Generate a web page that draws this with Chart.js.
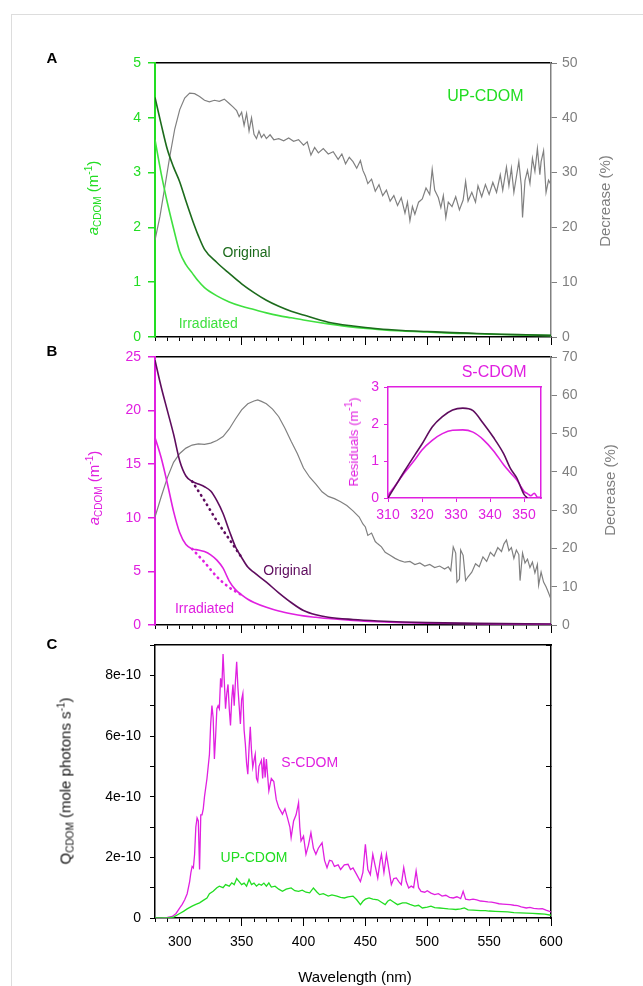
<!DOCTYPE html>
<html>
<head>
<meta charset="utf-8">
<script src="https://cdn.jsdelivr.net/npm/chart.js@4.4.0/dist/chart.umd.min.js"></script>
<style>
  body { margin: 0; background: #fff; font-family: "Liberation Sans", Arial, sans-serif; }
  #page { position: relative; width: 643px; height: 986px; overflow: hidden; }
  #page canvas { position: absolute; left: 0; top: 0; }
  .frame-l { position: absolute; left: 11px; top: 14px; width: 1px; height: 972px; background: #ddd; }
  .frame-t { position: absolute; left: 11px; top: 14px; width: 632px; height: 1px; background: #ddd; }
  .txt { position: absolute; white-space: nowrap; font-size: 14px; line-height: 1; z-index: 5; font-weight: normal; }
  .rot { transform: translate(-50%, -50%) rotate(-90deg); }
  .mid { transform: translate(-50%, -50%); }
  .panel { font-weight: bold; font-size: 15px; color: #000; }
  sub { font-size: 10px; vertical-align: -3px; }
  sup { font-size: 10px; vertical-align: 6px; }
</style>
</head>
<body>
<div id="page">
  <div class="frame-l"></div><div class="frame-t"></div>
  <canvas id="chartA" width="643" height="986"></canvas>
  <canvas id="chartB" width="643" height="986"></canvas>
  <canvas id="chartInset" width="643" height="986"></canvas>
  <canvas id="chartC" width="643" height="986"></canvas>

  <div class="txt panel mid" style="left:52px;top:57px">A</div>
  <div class="txt panel mid" style="left:52px;top:350px">B</div>
  <div class="txt panel mid" style="left:52px;top:643px">C</div>

  <div class="txt rot" style="left:93px;top:198px;color:#22dd22;font-size:15px"><i>a</i><sub>CDOM</sub> (m<sup>-1</sup>)</div>
  <div class="txt rot" style="left:604px;top:201px;color:#808080;font-size:15px">Decrease (%)</div>
  <div class="txt rot" style="left:94px;top:488px;color:#e020e0;font-size:15px"><i>a</i><sub>CDOM</sub> (m<sup>-1</sup>)</div>
  <div class="txt rot" style="left:609px;top:490px;color:#808080;font-size:15px">Decrease (%)</div>
  <div class="txt rot" style="left:352px;top:442px;color:#e020e0;font-size:13px">Residuals (m<sup>-1</sup>)</div>
  <div class="txt rot" style="left:66px;top:781px;color:#111;font-size:15px">Q<sub>CDOM</sub> (mole photons s<sup>-1</sup>)</div>
  <div class="txt mid" style="left:355px;top:976px;color:#000;font-size:15px">Wavelength (nm)</div>
</div>

<script>
// ---- panel A : UP-CDOM absorption (m-1) and decrease (%) ----
const wlA   = [280, 285, 290, 295, 300, 305, 310, 315, 320, 330, 340, 350, 360, 370, 380, 390, 400, 420, 440, 460, 480, 500, 520, 540, 560, 580, 600];
const origA = [4.37, 3.88, 3.42, 3.10, 2.83, 2.48, 2.15, 1.85, 1.60, 1.36, 1.16, 0.97, 0.81, 0.67, 0.56, 0.47, 0.40, 0.27, 0.20, 0.15, 0.12, 0.10, 0.08, 0.065, 0.05, 0.04, 0.03];
const irrA  = [3.60, 2.98, 2.45, 1.98, 1.55, 1.32, 1.17, 1.02, 0.90, 0.75, 0.64, 0.56, 0.50, 0.44, 0.39, 0.35, 0.31, 0.24, 0.18, 0.14, 0.11, 0.09, 0.07, 0.06, 0.045, 0.035, 0.025];

const wlDecA = [280, 284, 288, 292, 296, 300, 304, 308, 312, 316, 320, 324, 328, 332, 336, 340, 343, 346, 348, 350, 352, 354, 356, 358, 360, 362, 364, 366, 368, 370, 373, 376, 380, 384, 388, 392, 396, 400, 403, 406, 409, 412, 416, 420, 424, 428, 431, 434, 437, 440, 443, 446, 448, 450, 452, 455, 458, 461, 464, 467, 470, 473, 476, 479, 482, 484, 486, 488, 490, 493, 496, 499, 502, 504, 506, 509, 511, 513, 515, 517, 520, 523, 526, 529, 531, 533, 536, 539, 541, 544, 547, 550, 553, 556, 559, 561, 564, 566, 568, 570, 572, 574, 576, 577, 579, 581, 583, 585, 587, 589, 591, 592, 594, 596, 598, 600];
const decA   = [17.7, 22.0, 27.5, 33.0, 38.0, 41.5, 43.6, 44.5, 44.4, 43.9, 43.2, 42.9, 43.2, 43.0, 43.4, 42.6, 42.0, 41.3, 40.2, 41.0, 38.6, 40.8, 37.6, 40.0, 37.0, 36.2, 37.6, 36.4, 37.0, 36.2, 36.9, 36.0, 36.2, 35.8, 36.3, 35.7, 36.0, 35.0, 35.6, 33.2, 34.6, 33.6, 34.4, 33.4, 33.8, 32.4, 33.4, 31.6, 32.8, 32.0, 30.8, 32.2, 30.4, 29.4, 28.0, 28.8, 26.6, 27.8, 25.8, 26.8, 24.8, 25.8, 24.0, 25.4, 22.6, 24.6, 21.2, 23.8, 22.4, 24.6, 25.2, 27.2, 26.0, 30.6, 26.8, 25.4, 23.6, 25.8, 21.8, 24.6, 23.8, 25.6, 23.2, 25.0, 28.4, 24.8, 26.4, 24.6, 27.6, 25.6, 27.8, 26.0, 28.2, 26.4, 29.6, 26.8, 31.0, 27.6, 30.8, 26.4, 29.2, 32.0, 27.6, 21.8, 28.6, 30.4, 28.0, 32.6, 30.2, 34.4, 29.6, 32.0, 34.0, 26.4, 28.6, 27.8];

// ---- panel B : S-CDOM absorption (m-1) and decrease (%) ----
const wlB   = [280, 285, 290, 295, 300, 305, 310, 315, 320, 325, 330, 335, 340, 345, 350, 355, 360, 370, 380, 390, 400, 410, 420, 440, 460, 480, 500, 540, 600];
const origB = [24.7, 22.2, 20.0, 17.8, 15.3, 13.9, 13.4, 13.15, 12.9, 12.5, 11.6, 10.4, 8.8, 7.3, 6.3, 5.4, 4.9, 4.0, 3.0, 2.1, 1.35, 0.95, 0.73, 0.52, 0.38, 0.28, 0.22, 0.15, 0.09];
const irrB  = [17.5, 15.6, 13.2, 10.6, 8.6, 7.5, 7.1, 7.0, 6.85, 6.55, 6.05, 5.3, 4.1, 3.3, 2.8, 2.4, 2.1, 1.65, 1.3, 1.05, 0.85, 0.72, 0.6, 0.42, 0.3, 0.22, 0.17, 0.11, 0.06];

// dotted baselines under the 310-350 nm shoulder
const wlBase   = [310, 320, 330, 340, 350];
const baseOrig = [13.4, 11.6, 9.7, 8.0, 6.3];
const baseIrr  = [7.1, 5.85, 4.5, 3.5, 2.8];

const wlDecB = [280, 285, 290, 295, 300, 305, 310, 315, 320, 325, 330, 335, 340, 345, 350, 355, 360, 363, 366, 370, 375, 380, 385, 390, 395, 400, 405, 410, 415, 420, 425, 430, 435, 440, 445, 448, 450, 452, 455, 458, 460, 463, 466, 470, 474, 478, 482, 486, 490, 494, 498, 502, 506, 510, 514, 517, 519, 521, 523, 524, 526, 527, 529, 531, 533, 536, 539, 542, 545, 548, 551, 554, 557, 560, 562, 564, 566, 568, 570, 572, 574, 575, 577, 579, 581, 583, 585, 587, 589, 590, 592, 594, 596, 598, 600];
const decB   = [28.2, 33.5, 38.5, 42.5, 44.8, 46.2, 47.0, 47.3, 47.2, 47.5, 48.2, 49.2, 51.2, 53.8, 56.2, 57.8, 58.5, 58.8, 58.4, 57.8, 56.4, 54.4, 51.4, 48.0, 44.8, 41.0, 38.6, 36.8, 34.8, 33.6, 33.0, 32.2, 31.2, 29.8, 28.2, 26.4, 25.6, 23.4, 24.0, 21.8, 21.2, 20.4, 19.0, 18.2, 17.4, 16.8, 16.4, 16.6, 15.8, 16.2, 15.4, 15.8, 15.0, 15.4, 14.6, 15.2, 14.2, 20.4, 18.8, 11.2, 12.0, 19.6, 18.2, 11.6, 12.6, 13.8, 16.0, 15.2, 17.8, 16.6, 19.0, 18.0, 20.2, 19.2, 21.2, 22.2, 19.4, 20.2, 17.4, 19.6, 18.4, 11.6, 18.8, 16.2, 17.2, 15.0, 16.4, 13.6, 15.8, 10.4, 13.8, 11.2, 10.0, 8.4, 6.7];

// ---- inset : residuals (m-1) ----
const wlRes   = [310, 312, 315, 318, 320, 323, 326, 329, 332, 335, 338, 341, 344, 346, 348, 349, 350, 351, 352, 353, 354, 355];
const resOrig = [0, 0.3, 0.75, 1.18, 1.46, 1.92, 2.2, 2.38, 2.43, 2.36, 2.02, 1.64, 1.2, 0.8, 0.52, 0.3, 0.1, 0, null, null, null, null];
const resIrr  = [0.07, 0.32, 0.7, 1.05, 1.3, 1.56, 1.74, 1.83, 1.84, 1.78, 1.58, 1.28, 0.9, 0.68, 0.47, 0.32, 0.18, 0.12, 0.06, 0.13, 0.02, 0.02];

// ---- panel C : Q_CDOM, in units of 1e-10 mole photons s-1 ----
const wlQS = [280, 285, 290, 294, 297, 300, 302, 304, 306, 308, 309, 310, 311, 312, 313, 314, 315, 316, 317, 318, 319, 320, 322, 324, 325, 326, 327, 328, 329, 330, 331, 332, 333, 334, 335, 336, 337, 338, 339, 340, 341, 342, 343, 344, 345, 346, 347, 348, 349, 350, 351, 352, 353, 354, 355, 356, 357, 358, 359, 360, 361, 362, 363, 364, 366, 367, 368, 369, 370, 371, 372, 374, 376, 378, 380, 382, 383, 385, 387, 389, 390, 392, 394, 396, 397, 398, 400, 402, 404, 406, 408, 410, 412, 415, 417, 419, 421, 423, 425, 428, 430, 433, 436, 438, 440, 443, 446, 448, 450, 452, 454, 456, 458, 460, 462, 463, 465, 467, 469, 471, 473, 475, 477, 479, 481, 483, 485, 487, 489, 491, 493, 495, 498, 500, 503, 506, 509, 512, 515, 518, 521, 524, 527, 529, 531, 534, 537, 540, 543, 546, 549, 552, 555, 558, 561, 564, 567, 570, 573, 576, 580, 583, 586, 590, 593, 596, 600];
const qS   = [0, 0, 0.02, 0.05, 0.15, 0.33, 0.45, 0.6, 0.8, 1.2, 1.5, 1.7, 1.65, 2.1, 3.0, 3.3, 3.2, 1.6, 3.4, 3.4, 3.6, 4.0, 4.6, 5.4, 6.4, 7.0, 6.6, 5.24, 6.0, 6.9, 7.0, 6.9, 7.9, 7.6, 8.7, 7.8, 6.9, 7.4, 7.7, 6.9, 6.35, 7.2, 7.7, 7.0, 7.8, 8.45, 7.6, 7.0, 6.4, 7.2, 7.4, 6.2, 5.74, 5.1, 4.74, 5.6, 6.3, 5.5, 4.97, 5.2, 5.4, 4.6, 4.5, 5.0, 5.2, 4.6, 5.3, 4.63, 5.24, 4.7, 4.19, 4.6, 4.5, 3.9, 3.64, 3.5, 3.42, 3.6, 3.31, 3.0, 2.65, 3.2, 3.4, 3.8, 3.0, 2.54, 2.7, 2.1, 2.4, 2.81, 2.3, 2.1, 2.3, 2.48, 1.9, 1.66, 1.9, 1.88, 1.7, 1.75, 1.6, 1.75, 1.77, 1.6, 1.65, 1.43, 1.2, 1.5, 2.43, 1.6, 1.43, 2.1, 1.7, 1.32, 1.9, 2.1, 1.5, 2.1, 1.6, 1.1, 1.3, 1.32, 1.2, 1.1, 1.66, 1.2, 0.99, 1.05, 1.0, 1.55, 1.0, 0.88, 0.85, 0.9, 0.82, 0.77, 0.8, 0.72, 0.75, 0.68, 0.66, 0.7, 0.64, 0.88, 0.62, 0.6, 0.62, 0.6, 0.56, 0.55, 0.53, 0.52, 0.5, 0.47, 0.46, 0.45, 0.44, 0.42, 0.41, 0.37, 0.33, 0.35, 0.32, 0.3, 0.31, 0.26, 0.2];

const wlQU = [280, 290, 295, 300, 303, 306, 310, 313, 316, 319, 322, 324, 327, 330, 332, 335, 337, 340, 342, 344, 346, 348, 350, 352, 354, 356, 358, 360, 362, 364, 366, 368, 370, 372, 374, 377, 380, 383, 386, 390, 393, 396, 399, 402, 405, 408, 411, 413, 416, 420, 423, 427, 430, 433, 436, 440, 443, 446, 448, 450, 453, 456, 460, 463, 466, 468, 470, 473, 476, 480, 483, 486, 490, 493, 496, 500, 503, 506, 510, 513, 517, 520, 523, 527, 530, 533, 537, 540, 543, 547, 550, 555, 560, 565, 570, 575, 580, 585, 590, 595, 600];
const qU   = [0, 0, 0.03, 0.15, 0.22, 0.3, 0.39, 0.45, 0.5, 0.58, 0.66, 0.8, 0.88, 1.0, 1.05, 1.0, 1.1, 1.05, 1.16, 1.1, 1.3, 1.2, 1.1, 1.15, 1.05, 1.27, 1.1, 1.15, 1.05, 1.12, 1.08, 1.15, 1.05, 1.16, 1.02, 1.05, 0.95, 0.88, 0.95, 0.99, 0.9, 0.88, 0.92, 0.85, 0.83, 0.99, 0.85, 0.77, 0.8, 0.72, 0.76, 0.72, 0.68, 0.66, 0.7, 0.72, 0.6, 0.44, 0.55, 0.62, 0.66, 0.62, 0.6, 0.52, 0.44, 0.55, 0.6, 0.52, 0.44, 0.5, 0.5, 0.45, 0.39, 0.42, 0.33, 0.36, 0.39, 0.34, 0.33, 0.32, 0.3, 0.29, 0.28, 0.3, 0.33, 0.27, 0.26, 0.25, 0.24, 0.24, 0.23, 0.22, 0.21, 0.2, 0.18, 0.17, 0.16, 0.15, 0.14, 0.13, 0.09];

const GREEN = '#22dd22';
const DKGREEN = '#1c6b1c';
const LTGREEN = '#3fe03f';
const MAGENTA = '#e020e0';
const PURPLE = '#5e0c5e';
const GRAY = '#808080';
const FONT = '"Liberation Sans", Arial, sans-serif';

Chart.defaults.font.family = FONT;
Chart.defaults.font.size = 14;

function pts(xs, ys) {
    return xs.map((x, i) => ({x: x, y: ys[i]}));
}

// fixed axis box sizes, so the plot area comes out where we want it
function fit(size) {
    return scale => {
        if (scale.isHorizontal()) scale.height = size;
        else scale.width = size;
    };
}

function line(data, color, width, extra) {
    return Object.assign({
        data: data,
        borderColor: color,
        borderWidth: width,
        pointRadius: 0,
        fill: false,
        tension: 0
    }, extra || {});
}

// text drawn at data coordinates
const notePlugin = {
    id: 'notes',
    afterDatasetsDraw(chart, args, opts) {
        const ctx = chart.ctx;
        (opts.items || []).forEach(n => {
            const xs = chart.scales.x;
            const ys = chart.scales[n.axis || 'y'];
            ctx.save();
            ctx.font = (n.size || 14) + 'px ' + FONT;
            ctx.fillStyle = n.color;
            ctx.textAlign = 'center';
            ctx.textBaseline = 'middle';
            ctx.fillText(n.text, xs.getPixelForValue(n.x), ys.getPixelForValue(n.y));
            ctx.restore();
        });
    }
};

function wavelengthAxes(labelHeight) {
    return {
        x: {
            type: 'linear', position: 'bottom', min: 280, max: 600, afterFit: fit(labelHeight),
            ticks: {
                display: labelHeight > 0, stepSize: 10, color: '#000', padding: 12,
                autoSkip: false, maxRotation: 0, minRotation: 0,
                callback: v => (v % 50 === 0 && v >= 300) ? String(v) : ''
            },
            grid: {drawOnChartArea: false, tickLength: 4, color: '#000', lineWidth: 1},
            border: {color: '#000', width: 1.5}
        },
        xMajor: {
            type: 'linear', position: {y: 0}, min: 280, max: 600,
            ticks: {display: false, stepSize: 50, autoSkip: false},
            grid: {
                drawOnChartArea: false, tickLength: 8, lineWidth: 1,
                color: c => (c.tick && c.tick.value % 50 === 0) ? '#000' : 'rgba(0,0,0,0)'
            },
            border: {display: false}
        },
        xTop: {
            type: 'linear', position: 'top', min: 280, max: 600, afterFit: fit(0),
            ticks: {display: false},
            grid: {drawOnChartArea: false, drawTicks: false},
            border: {color: '#000', width: 1.5}
        }
    };
}

// area = plot box [left, top, right, bottom]; box = axis sizes [left, top, right, bottom]
function baseOptions(area, box) {
    return {
        responsive: false,
        animation: false,
        events: [],
        layout: {padding: {
            left: area[0] - box[0],
            top: area[1] - box[1],
            right: 643 - area[2] - box[2],
            bottom: 986 - area[3] - box[3]
        }},
        plugins: {legend: {display: false}, tooltip: {enabled: false}, notes: {items: []}}
    };
}

// ---------- A ----------
const optA = baseOptions([155, 63, 551, 337], [60, 0, 60, 0]);
optA.scales = Object.assign(wavelengthAxes(0), {
    y: {
        min: 0, max: 5, afterFit: fit(60),
        ticks: {stepSize: 1, color: GREEN, padding: 7},
        grid: {drawOnChartArea: false, tickLength: 7, color: GREEN, lineWidth: 1.5},
        border: {color: GREEN, width: 2}
    },
    y2: {
        position: 'right', min: 0, max: 50, afterFit: fit(60),
        ticks: {stepSize: 10, color: GRAY, padding: 5},
        grid: {drawOnChartArea: false, tickLength: 6, color: GRAY, lineWidth: 1},
        border: {color: GRAY, width: 1.5}
    }
});
optA.plugins.notes.items = [
    {text: 'UP-CDOM', x: 547, y: 4.38, color: GREEN, size: 16},
    {text: 'Original', x: 354, y: 1.53, color: DKGREEN},
    {text: 'Irradiated', x: 323, y: 0.24, color: LTGREEN}
];
new Chart(document.getElementById('chartA'), {
    type: 'line',
    data: {datasets: [
        line(pts(wlA, origA), DKGREEN, 1.6, {cubicInterpolationMode: 'monotone'}),
        line(pts(wlA, irrA), LTGREEN, 1.6, {cubicInterpolationMode: 'monotone'}),
        line(pts(wlDecA, decA), GRAY, 1.2, {yAxisID: 'y2'})
    ]},
    options: optA,
    plugins: [notePlugin]
});

// ---------- B ----------
const optB = baseOptions([155, 357, 551, 625], [60, 0, 60, 0]);
optB.scales = Object.assign(wavelengthAxes(0), {
    y: {
        min: 0, max: 25, afterFit: fit(60),
        ticks: {stepSize: 5, color: MAGENTA, padding: 7},
        grid: {drawOnChartArea: false, tickLength: 7, color: MAGENTA, lineWidth: 1.5},
        border: {color: MAGENTA, width: 2}
    },
    y2: {
        position: 'right', min: 0, max: 70, afterFit: fit(60),
        ticks: {stepSize: 10, color: GRAY, padding: 5},
        grid: {drawOnChartArea: false, tickLength: 6, color: GRAY, lineWidth: 1},
        border: {color: GRAY, width: 1.5}
    }
});
optB.plugins.notes.items = [
    {text: 'S-CDOM', x: 554, y: 23.5, color: MAGENTA, size: 16},
    {text: 'Original', x: 387, y: 5.0, color: PURPLE},
    {text: 'Irradiated', x: 320, y: 1.5, color: MAGENTA}
];
const dots = {borderDash: [0.5, 5], borderCapStyle: 'round'};
new Chart(document.getElementById('chartB'), {
    type: 'line',
    data: {datasets: [
        line(pts(wlB, origB), PURPLE, 1.6, {cubicInterpolationMode: 'monotone'}),
        line(pts(wlB, irrB), MAGENTA, 1.6, {cubicInterpolationMode: 'monotone'}),
        line(pts(wlBase, baseOrig), PURPLE, 2.6, Object.assign({cubicInterpolationMode: 'monotone'}, dots)),
        line(pts(wlBase, baseIrr), MAGENTA, 2.6, Object.assign({cubicInterpolationMode: 'monotone'}, dots)),
        line(pts(wlDecB, decB), GRAY, 1.2, {yAxisID: 'y2'})
    ]},
    options: optB,
    plugins: [notePlugin]
});

// ---------- inset ----------
const optIn = baseOptions([388, 387, 541, 498], [30, 0, 0, 30]);
optIn.scales = {
    x: {
        type: 'linear', position: 'bottom', min: 310, max: 355, afterFit: fit(30),
        ticks: {stepSize: 10, includeBounds: false, color: MAGENTA, padding: 5, autoSkip: false,
                maxRotation: 0, minRotation: 0},
        grid: {drawOnChartArea: false, tickLength: 4, lineWidth: 1, color: MAGENTA},
        border: {color: MAGENTA, width: 1.5}
    },
    xTop: {
        type: 'linear', position: 'top', min: 310, max: 355, afterFit: fit(0),
        ticks: {display: false}, grid: {drawOnChartArea: false, drawTicks: false},
        border: {color: MAGENTA, width: 1.5}
    },
    y: {
        min: 0, max: 3, afterFit: fit(30),
        ticks: {stepSize: 1, color: MAGENTA, padding: 5},
        grid: {drawOnChartArea: false, tickLength: 4, color: MAGENTA, lineWidth: 1},
        border: {color: MAGENTA, width: 1.5}
    },
    yRight: {
        position: 'right', min: 0, max: 3, afterFit: fit(0),
        ticks: {display: false}, grid: {drawOnChartArea: false, drawTicks: false},
        border: {color: MAGENTA, width: 1.5}
    }
};
new Chart(document.getElementById('chartInset'), {
    type: 'line',
    data: {datasets: [
        line(pts(wlRes, resOrig), PURPLE, 1.6, {cubicInterpolationMode: 'monotone'}),
        line(pts(wlRes, resIrr), MAGENTA, 1.6, {cubicInterpolationMode: 'monotone'})
    ]},
    options: optIn
});

// ---------- C ----------
const optC = baseOptions([155, 645, 551, 918], [100, 0, 0, 40]);
optC.scales = Object.assign(wavelengthAxes(40), {
    y: {
        min: 0, max: 9, afterFit: fit(100),
        ticks: {stepSize: 1, color: '#000', padding: 9,
                callback: v => {
                    const k = Math.round(v);
                    if (k % 2 !== 0) return '';
                    return k === 0 ? '0' : k + 'e-10';
                }},
        grid: {drawOnChartArea: false, tickLength: 5, color: '#000', lineWidth: 1},
        border: {color: '#000', width: 1.5}
    },
    yRight: {
        position: 'right', min: 0, max: 9, afterFit: fit(0),
        ticks: {display: false, stepSize: 1},
        grid: {drawOnChartArea: false, tickLength: -5, lineWidth: 1,
               color: c => (c.tick && Math.round(c.tick.value) % 2 === 1) ? '#000' : 'rgba(0,0,0,0)'},
        border: {color: '#000', width: 1.5}
    }
});
optC.plugins.notes.items = [
    {text: 'S-CDOM', x: 405, y: 5.1, color: MAGENTA},
    {text: 'UP-CDOM', x: 360, y: 1.98, color: GREEN}
];
new Chart(document.getElementById('chartC'), {
    type: 'line',
    data: {datasets: [
        line(pts(wlQU, qU), GREEN, 1.3),
        line(pts(wlQS, qS), MAGENTA, 1.3)
    ]},
    options: optC,
    plugins: [notePlugin]
});
</script>
</body>
</html>
